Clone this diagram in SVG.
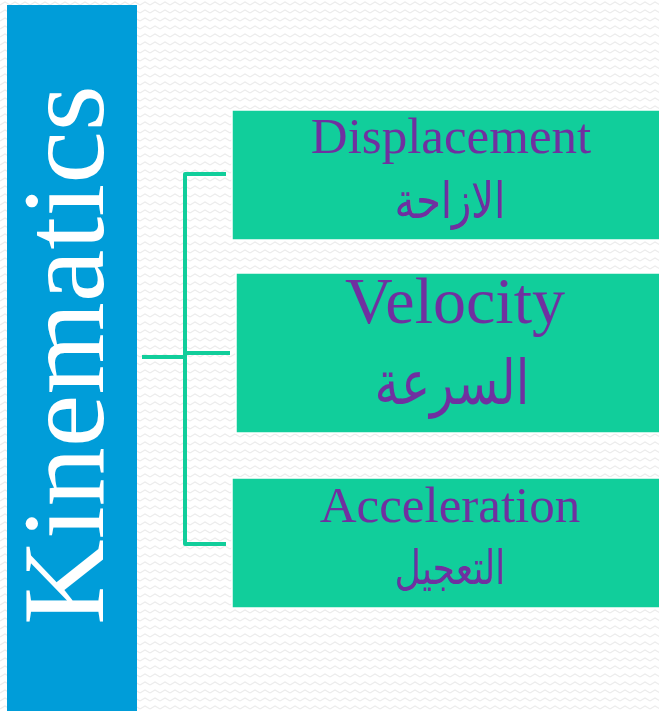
<svg xmlns="http://www.w3.org/2000/svg" width="659" height="711" viewBox="0 0 659 711">
<style>
.box{fill:#11CE9B;stroke:#ffffff;stroke-width:1.5}
.en{font-family:"Liberation Serif",serif;fill:#7030A0;text-anchor:middle}
.ar{font-family:"DejaVu Sans",sans-serif;fill:#7030A0;text-anchor:middle}
.conn{stroke:#11CE9B;stroke-width:4;fill:none;stroke-linejoin:round}
</style>
<defs>
<pattern id="zz" width="10" height="8" patternUnits="userSpaceOnUse">
<polyline points="0,5 5,2 10,5" fill="none" stroke="#ececec" stroke-width="1.2"/>
</pattern>
</defs>
<rect width="659" height="711" fill="#ffffff"/>
<rect width="659" height="711" fill="url(#zz)"/>
<g id="kinematics">
<rect x="7" y="5" width="130" height="706" fill="#009DD9"/>
<text transform="translate(103,355) rotate(-90)" font-family="Liberation Serif, serif" font-size="116" fill="#ffffff" text-anchor="middle" textLength="540" lengthAdjust="spacingAndGlyphs">Kinematics</text>
</g>
<g id="connectors">
<line class="conn" x1="142" y1="357" x2="185" y2="357"/>
<polyline class="conn" points="226,174 185,174 185,544 226,544"/>
<line class="conn" x1="185" y1="353" x2="230" y2="353"/>
</g>
<g id="displacement">
<rect class="box" x="232" y="110" width="428" height="130"/>
<text class="en" x="451" y="153" font-size="51">Displacement</text>
<text class="ar" transform="translate(450,218) scale(1,1.25)" font-size="40">الازاحة</text>
</g>
<g id="velocity">
<rect class="box" x="236" y="273" width="424" height="160"/>
<text class="en" x="455" y="323" font-size="66">Velocity</text>
<text class="ar" transform="translate(452,404) scale(1,1.25)" font-size="49">السرعة</text>
</g>
<g id="acceleration">
<rect class="box" x="232" y="478" width="428" height="130"/>
<text class="en" x="450" y="522" font-size="51">Acceleration</text>
<text class="ar" transform="translate(450,584) scale(1,1.3)" font-size="36">التعجيل</text>
</g>
</svg>
